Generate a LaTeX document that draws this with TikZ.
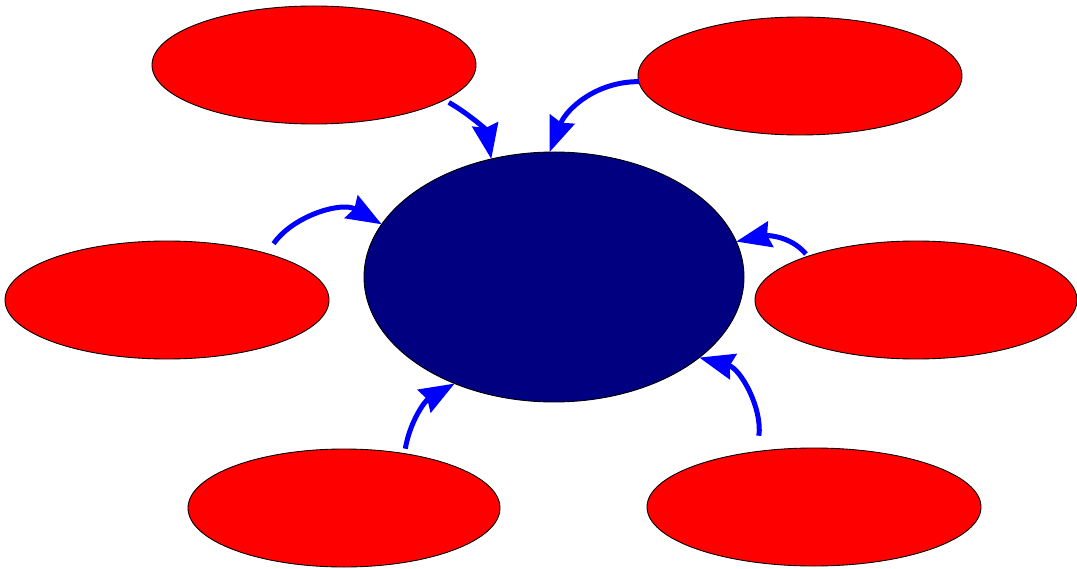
\documentclass[tikz,border=0pt]{standalone}
\usepackage{tikz}
\usetikzlibrary{positioning,arrows.meta,shapes.geometric}
\definecolor{hubblue}{RGB}{0,0,128}
\definecolor{leafred}{RGB}{255,0,0}
\definecolor{linkblue}{RGB}{0,0,255}
\tikzset{
  linkarrow/.style={-{Stealth[length=7mm, width=5.2mm, inset=0.7mm]}, line width=0.1cm, draw=linkblue},
  hubnode/.style={draw, ellipse, line width=0.5pt, fill=hubblue, inner sep=0pt, outer sep=0pt, minimum width=7.6cm, minimum height=5cm},
  leafnode/.style={draw, ellipse, line width=0.5pt, fill=leafred, inner sep=0pt, outer sep=0pt, minimum width=6.48cm, minimum height=2.36cm}
}
\begin{document}
\begin{tikzpicture}
  \useasboundingbox (0,0) rectangle (21.54,-11.38);
  \node[hubnode] (hub) at (11.08,-5.54) {};
  \node[leafnode] (tl) at (6.28,-1.30) {};
  \node[leafnode] (tr) at (16.00,-1.52) {};
  \node[leafnode] (lf) at (3.34,-6.00) {};
  \node[leafnode, minimum width=6.44cm] (rt) at (18.32,-6.00) {};
  \node[leafnode, minimum width=6.24cm] (bl) at (6.88,-10.16) {};
  \node[leafnode, minimum width=6.68cm] (br) at (16.28,-10.14) {};
  \draw[linkarrow, shorten <=0.1cm] (tl.-15) to[out=-30, in=100] (hub.118.7);
  \draw[linkarrow] (tr.182) to[out=180, in=69] (hub.92);
  \draw[linkarrow, shorten <=0.24cm] (lf.25.3) to[out=55, in=150] (hub.163);
  \draw[linkarrow, shorten <=0.06cm] (rt.158) to[out=130, in=12] (hub.11.7);
  \draw[linkarrow, shorten <=0.1cm] (bl.42.8) to[out=80, in=210] (hub.227);
  \draw[linkarrow, shorten <=0.32cm] (br.136) to[out=82, in=-15] (hub.-29.4);
\end{tikzpicture}
\end{document}
